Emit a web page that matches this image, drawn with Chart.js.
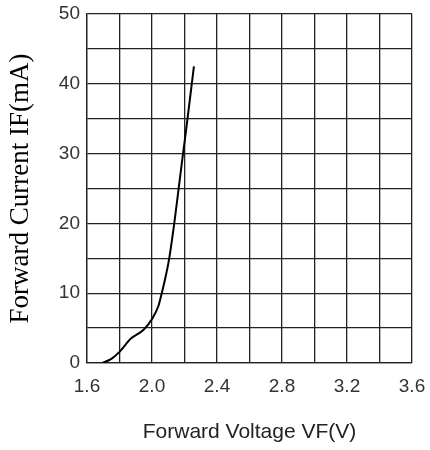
<!DOCTYPE html>
<html lang="en">
<head>
    <meta charset="UTF-8">
    <title>Forward Current vs Forward Voltage</title>
    <style>
        body { margin: 0; background: #fff; }
        #ivCurve { display: block; }
    </style>
</head>
<body>
    <canvas id="ivCurve" width="430" height="450"></canvas>

    <script src="https://cdn.jsdelivr.net/npm/chart.js"></script>
    <script>
        // values
        const voltage = [1.694, 1.75, 1.80, 1.87, 1.95, 2.00, 2.04, 2.06, 2.085, 2.106, 2.137, 2.164, 2.191, 2.21, 2.258];
        const current = [0, 0.6, 1.6, 3.5, 4.8, 6.3, 8.2, 10, 12.5, 15, 20, 25, 30, 33.4, 42.5];

        const xMin = 1.6, xMax = 3.6, xStep = 0.2;
        const yMin = 0, yMax = 50, yStep = 5;

        const points = voltage.map((v, i) => ({ x: v, y: current[i] }));

        const gridColor = '#222';

        const ctx = document.getElementById('ivCurve').getContext('2d');
        new Chart(ctx, {
            type: 'line',
            data: {
                datasets: [
                    { label: 'IF', data: points, borderColor: '#000', borderWidth: 2,
                      pointRadius: 0, fill: false, cubicInterpolationMode: 'monotone' }
                ]
            },
            options: {
                responsive: false,
                animation: false,
                layout: { padding: { left: 4, right: 18, top: 14, bottom: 5 } },
                plugins: { legend: { display: false }, tooltip: { enabled: false } },
                scales: {
                    x: {
                        type: 'linear', min: xMin, max: xMax,
                        grid: { color: gridColor, lineWidth: 1.3, drawTicks: false },
                        border: { color: gridColor, width: 1.3 },
                        ticks: {
                            stepSize: xStep, padding: 12, maxRotation: 0, autoSkip: false,
                            color: '#333', font: { family: 'Liberation Sans', size: 19 },
                            callback: (value, index) => index % 2 === 0 ? value.toFixed(1) : ''
                        },
                        title: { display: true, text: 'Forward Voltage VF(V)', color: '#222',
                                 font: { family: 'Liberation Sans', size: 21 }, padding: 0 },
                        afterFit: (scale) => {
                            scale.height = 82;
                            scale.paddingLeft = 0;
                            scale.paddingRight = 0;
                        }
                    },
                    y: {
                        min: yMin, max: yMax,
                        grid: { color: gridColor, lineWidth: 1.3, drawTicks: false },
                        border: { color: gridColor, width: 1.3 },
                        ticks: {
                            stepSize: yStep, padding: 7, autoSkip: false,
                            color: '#333', font: { family: 'Liberation Sans', size: 19 },
                            callback: (value) => value % 10 === 0 ? value : ''
                        },
                        title: { display: true, text: 'Forward Current IF(mA)', color: '#000',
                                 font: { family: 'Liberation Serif', size: 27 }, padding: { top: 1 } },
                        afterFit: (scale) => {
                            scale.width = 83;
                            scale.paddingTop = 0;
                            scale.paddingBottom = 0;
                        }
                    }
                }
            }
        });
    </script>
</body>
</html>
